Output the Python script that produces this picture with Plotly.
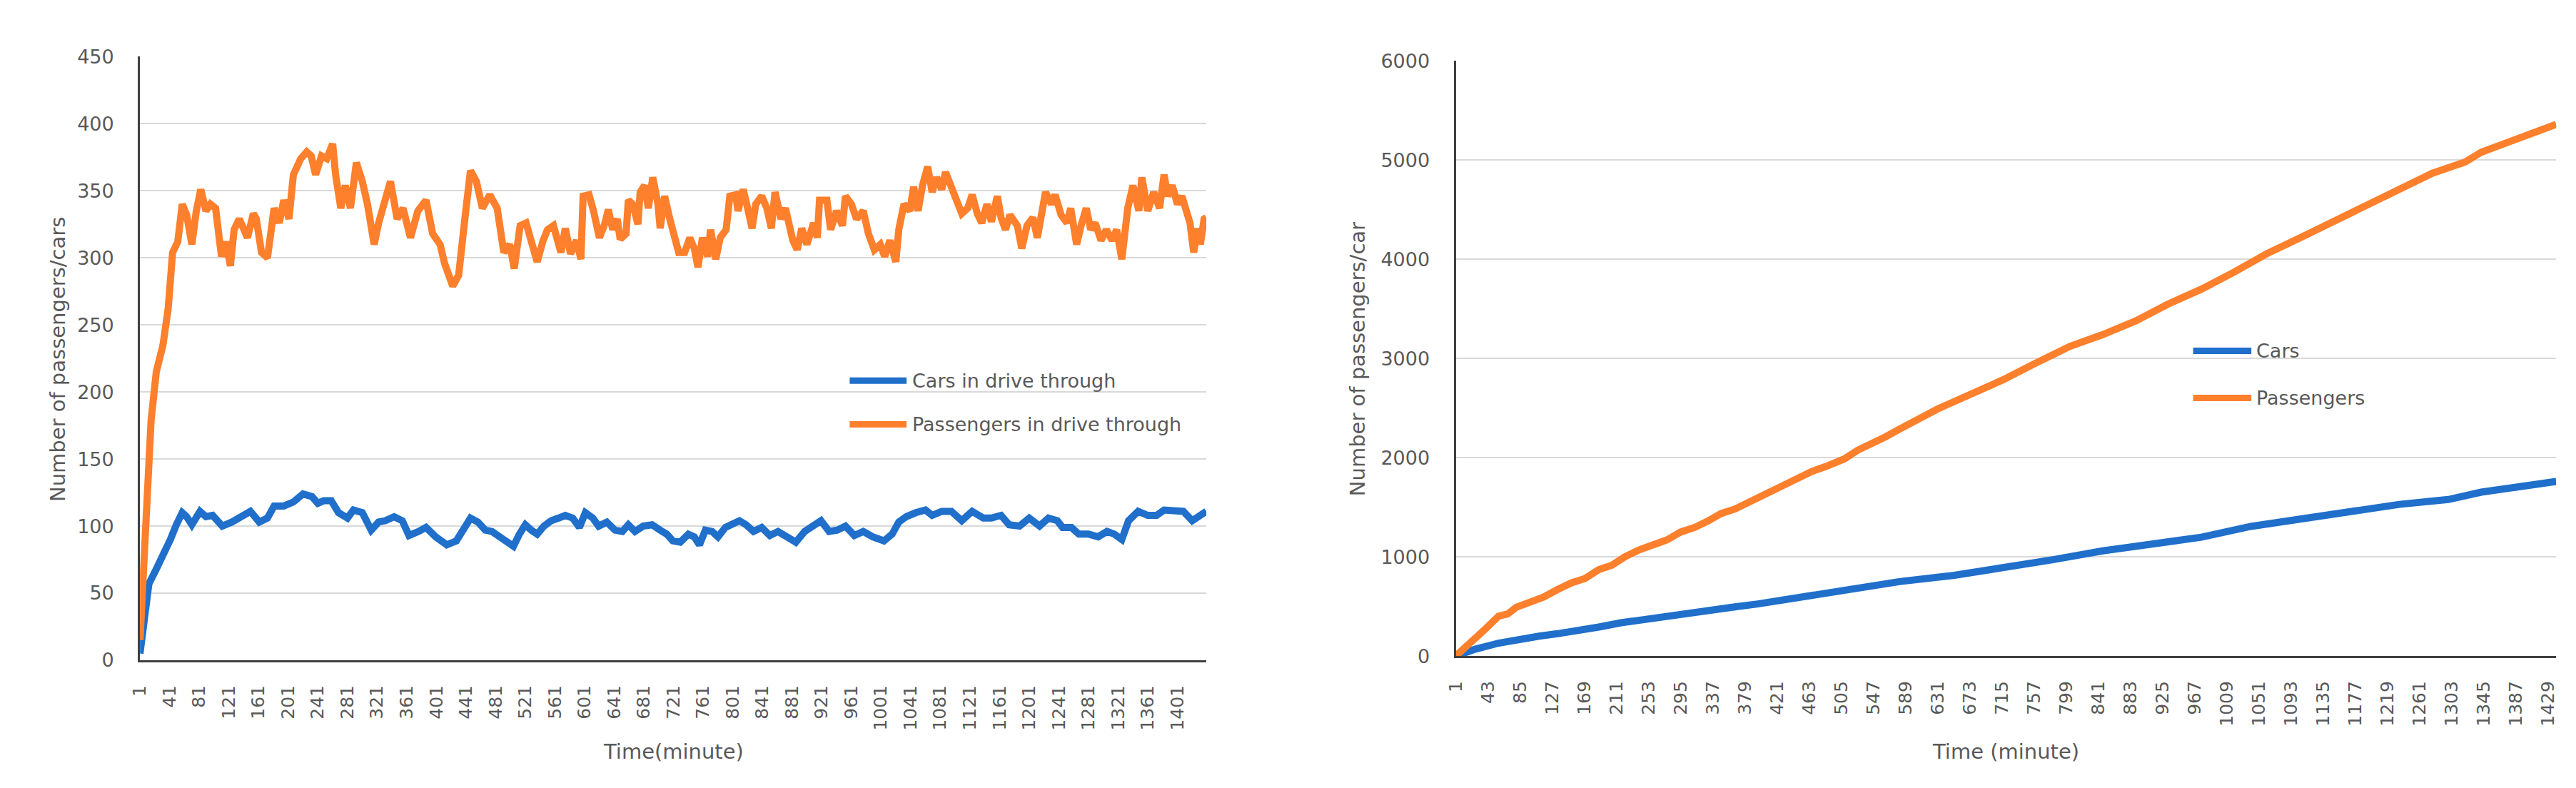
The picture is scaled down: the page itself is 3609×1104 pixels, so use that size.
import plotly.graph_objects as go

# ---- left chart: cars / passengers currently in the drive through ----
occ_car_min = [1, 2, 7, 13, 23, 32, 42, 50, 58, 64, 71, 82, 90, 99, 112, 125, 138, 150, 162, 173,
               182, 195, 208, 221, 233, 241, 249, 259, 269, 281, 289, 301, 313, 323, 332, 344, 355,
               364, 377, 387, 400, 415, 428, 438, 447, 457, 467, 476, 486, 495, 505, 513, 521, 529,
               537, 546, 556, 566, 575, 585, 594, 602, 612, 620, 631, 642, 652, 660, 669, 680, 692,
               703, 712, 720, 730, 741, 749, 756, 764, 773, 781, 791, 800, 810, 819, 829, 840, 851,
               862, 874, 886, 898, 910, 920, 931, 942, 953, 965, 977, 990, 1005, 1016, 1025, 1035,
               1048, 1061, 1070, 1083, 1096, 1110, 1124, 1139, 1150, 1163, 1174, 1188, 1201, 1215,
               1227, 1239, 1246, 1258, 1268, 1281, 1294, 1306, 1316, 1326, 1335, 1348, 1361, 1373,
               1383, 1396, 1409, 1421, 1431, 1440]
occ_car_val = [5, 10, 35, 57, 68, 78, 90, 101, 110, 107, 101, 111, 107, 108, 100, 103, 107, 111, 103, 106,
               115, 115, 118, 124, 122, 117, 119, 119, 110, 106, 112, 110, 97, 103, 104, 107, 104,
               93, 96, 99, 92, 86, 89, 99, 106, 103, 97, 96, 92, 89, 85, 94, 101, 97,
               94, 100, 104, 106, 108, 106, 99, 110, 106, 100, 103, 97, 96, 101, 96, 100, 101,
               97, 94, 89, 88, 94, 92, 86, 97, 96, 92, 99, 101, 104, 101, 96, 99, 93,
               96, 92, 88, 96, 100, 104, 96, 97, 100, 93, 96, 92, 89, 94, 103, 107,
               110, 112, 108, 111, 111, 104, 111, 106, 106, 108, 101, 100, 106, 100,
               106, 104, 99, 99, 94, 94, 92, 96, 94, 90, 104, 111, 108, 108,
               112, 111, 111, 104, 107, 111]

occ_pax_min = [1, 5, 7, 10, 16, 23, 32, 39, 45, 52, 58, 64, 71, 77, 83, 90, 96, 103, 111, 117, 123,
               128, 135, 139, 146, 154, 158, 165, 173, 182, 189, 195, 202, 208, 218, 226, 232, 238,
               246, 253, 261, 265, 272, 278, 285, 293, 301, 308, 317, 323, 331, 339, 348, 356, 366,
               376, 387, 396, 406, 412, 423, 431, 440, 447, 455, 463, 473, 483, 492, 500, 506, 514,
               522, 529, 537, 545, 551, 559, 569, 575, 582, 590, 596, 599, 607, 613, 621, 628, 633,
               639, 645, 649, 657, 660, 666, 673, 676, 682, 687, 693, 700, 703, 709, 716, 722, 728,
               736, 743, 749, 754, 760, 767, 771, 778, 784, 792, 797, 805, 808, 815, 821, 827, 832,
               840, 847, 853, 858, 866, 872, 882, 888, 894, 901, 910, 915, 918, 928, 933, 941, 949,
               953, 961, 968, 977, 984, 992, 1000, 1006, 1013, 1021, 1025, 1032, 1040, 1045, 1051,
               1057, 1064, 1070, 1076, 1083, 1088, 1096, 1104, 1110, 1118, 1124, 1131, 1137, 1144,
               1150, 1158, 1163, 1169, 1175, 1185, 1191, 1198, 1206, 1212, 1218, 1223, 1231, 1236,
               1244, 1252, 1257, 1265, 1271, 1278, 1284, 1290, 1298, 1305, 1313, 1319, 1326, 1334,
               1341, 1349, 1353, 1361, 1369, 1377, 1383, 1388, 1394, 1401, 1407, 1413, 1418, 1423,
               1428, 1432, 1437, 1440]
occ_pax_val = [15, 60, 96, 137, 179, 215, 235, 262, 304, 312, 340, 332, 310, 335, 351, 335, 340, 337, 301, 312, 294,
               321, 329, 324, 315, 333, 329, 304, 300, 337, 326, 343, 329, 362, 374, 379, 376, 362,
               376, 374, 385, 362, 337, 354, 337, 371, 357, 340, 310, 326, 340, 357, 329, 337, 315,
               335, 343, 318, 310, 296, 279, 287, 332, 365, 357, 337, 347, 337, 304, 310, 292, 324,
               326, 313, 297, 313, 321, 324, 304, 322, 303, 313, 299, 346, 347, 335, 315, 325, 336,
               321, 329, 314, 318, 343, 340, 325, 349, 354, 337, 360, 340, 322, 346, 329, 315, 304,
               304, 315, 307, 293, 315, 301, 321, 299, 315, 321, 346, 347, 335, 351, 337, 322, 340,
               346, 337, 322, 349, 329, 337, 313, 306, 322, 310, 326, 315, 343, 343, 321, 335, 324,
               346, 340, 329, 335, 318, 306, 310, 301, 313, 297, 321, 340, 335, 353, 335,
               354, 368, 349, 360, 351, 364, 353, 343, 333, 337, 347, 333, 326, 340,
               327, 346, 330, 321, 332, 324, 307, 324, 330, 315, 335, 349, 340, 347,
               332, 326, 337, 310, 324, 337, 321, 326, 313, 321, 313, 321, 299, 337,
               354, 335, 360, 335, 349, 337, 362, 346, 354, 340, 346, 332, 326, 304,
               322, 310, 329, 330]

# ---- right chart: cumulative totals ----
cum_car_min = [1, 27, 57, 80, 110, 134, 164, 188, 217, 247, 277, 307, 336, 366, 396, 426, 456, 485,
               515, 545, 581, 653, 717, 782, 847, 911, 976, 1041, 1105, 1170, 1235, 1299, 1342, 1396, 1440]
cum_car_val = [0, 70, 130, 165, 200, 225, 258, 292, 335, 370, 397, 428, 464, 495, 525, 560, 603, 625,
               656, 705, 750, 814, 888, 971, 1060, 1134, 1198, 1307, 1381, 1455, 1529, 1578, 1652, 1711, 1760]

cum_pax_min = [1, 21, 39, 57, 69, 80, 98, 116, 134, 152, 170, 188, 205, 223, 241, 259, 277, 295, 313,
               331, 348, 366, 390, 408, 432, 450, 467, 485, 509, 527, 545, 563, 581, 631, 674, 717,
               761, 804, 847, 890, 933, 976, 1019, 1062, 1105, 1148, 1192, 1235, 1278, 1321, 1342,
               1385, 1440]
cum_pax_val = [0, 134, 268, 402, 424, 491, 545, 595, 670, 737, 781, 871, 915, 1004, 1071, 1116, 1170, 1250, 1295,
               1362, 1437, 1482, 1575, 1629, 1719, 1808, 1862, 1911, 1987, 2076, 2134, 2210, 2286, 2490, 2638, 2786,
               2959, 3121, 3240, 3378, 3550, 3698, 3871, 4058, 4216, 4374, 4536, 4709, 4867, 4980, 5079,
               5202, 5360]

left_ticks = [1, 41, 81, 121, 161, 201, 241, 281, 321, 361, 401, 441, 481, 521, 561, 601, 641, 681,
              721, 761, 801, 841, 881, 921, 961, 1001, 1041, 1081, 1121, 1161, 1201, 1241, 1281,
              1321, 1361, 1401]
right_ticks = [1, 43, 85, 127, 169, 211, 253, 295, 337, 379, 421, 463, 505, 547, 589, 631, 673, 715,
               757, 799, 841, 883, 925, 967, 1009, 1051, 1093, 1135, 1177, 1219, 1261, 1303, 1345,
               1387, 1429]

BLUE = "#1f6fcb"
ORANGE = "#fe7f2c"
TXT = "#595959"
FONT = "DejaVu Sans"
LW = 10

fig = go.Figure()
fig.add_trace(go.Scatter(x=occ_car_min, y=occ_car_val, mode="lines",
                         line=dict(color=BLUE, width=LW), xaxis="x", yaxis="y"))
fig.add_trace(go.Scatter(x=occ_pax_min, y=occ_pax_val, mode="lines",
                         line=dict(color=ORANGE, width=LW), xaxis="x", yaxis="y"))
fig.add_trace(go.Scatter(x=cum_car_min, y=cum_car_val, mode="lines",
                         line=dict(color=BLUE, width=LW), xaxis="x2", yaxis="y2"))
fig.add_trace(go.Scatter(x=cum_pax_min, y=cum_pax_val, mode="lines",
                         line=dict(color=ORANGE, width=LW), xaxis="x2", yaxis="y2"))

xcommon = dict(range=[1, 1440], tickangle=-90, showgrid=False, zeroline=False,
               showline=True, linecolor="#404040", linewidth=3, ticks="",
               tickfont=dict(family=FONT, size=25, color=TXT), ticklabelstandoff=22)
ycommon = dict(showgrid=True, gridcolor="#d9d9d9", gridwidth=2, zeroline=False,
               showline=True, linecolor="#404040", linewidth=3, ticks="",
               tickfont=dict(family=FONT, size=27, color=TXT), ticklabelstandoff=28)

fig.update_layout(
    width=3609, height=1104,
    margin=dict(l=0, r=0, t=0, b=0),
    paper_bgcolor="white", plot_bgcolor="white",
    showlegend=False,
    xaxis=dict(domain=[0.0482, 0.4641], anchor="y", tickvals=left_ticks, **xcommon),
    yaxis=dict(domain=[0.1603, 0.9484], anchor="x", range=[0, 450], dtick=50, **ycommon),
    xaxis2=dict(domain=[0.5614, 0.9906], anchor="y2", tickvals=right_ticks, **xcommon),
    yaxis2=dict(domain=[0.1658, 0.9429], anchor="x2", range=[0, 6000], dtick=1000, **ycommon),
)

title_font = dict(family=FONT, size=29, color=TXT)
leg_font = dict(family=FONT, size=27, color=TXT)
notes = [
    dict(text="Time(minute)", x=0.2562, y=0.0408, font=title_font),
    dict(text="Time (minute)", x=0.7760, y=0.0408, font=title_font),
    dict(text="Number of passengers/cars", x=0.0161, y=0.5534, textangle=-90, font=title_font),
    dict(text="Number of passengers/car", x=0.5231, y=0.5534, textangle=-90, font=title_font),
]
for n in notes:
    fig.add_annotation(xref="paper", yref="paper", showarrow=False,
                       xanchor="center", yanchor="middle", **n)

# legends drawn by hand so the key lines have the same long stroke as the original
legend_items = [
    ("Cars in drive through", BLUE, 0.3250, 0.3472, 0.3488, 0.5254),
    ("Passengers in drive through", ORANGE, 0.3250, 0.3472, 0.3488, 0.4683),
    ("Cars", BLUE, 0.8490, 0.8717, 0.8731, 0.5643),
    ("Passengers", ORANGE, 0.8490, 0.8717, 0.8731, 0.5027),
]
for label, col, x0, x1, xt, yy in legend_items:
    fig.add_shape(type="line", xref="paper", yref="paper", x0=x0, x1=x1, y0=yy, y1=yy,
                  line=dict(color=col, width=9))
    fig.add_annotation(xref="paper", yref="paper", x=xt, y=yy, text=label, showarrow=False,
                       xanchor="left", yanchor="middle", font=leg_font)

fig.write_html("out.html")
